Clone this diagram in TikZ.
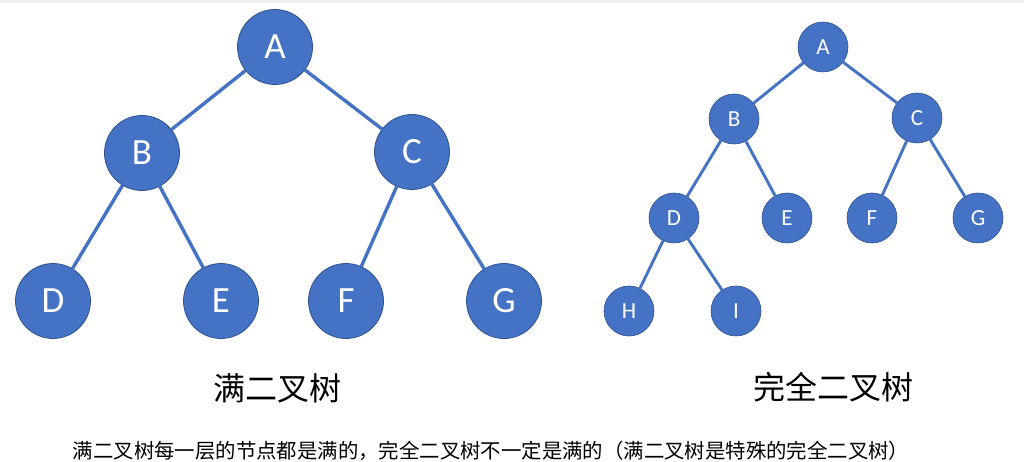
\documentclass[tikz,border=0pt]{standalone}
\usepackage{fontspec}
\setmainfont{Carlito}
\newfontfamily\cjk{Noto Sans CJK SC}
\usepackage{tikz}
\usetikzlibrary{positioning}
\definecolor{nodeblue}{HTML}{4472C4}
\definecolor{nodeedge}{HTML}{2F528F}
\definecolor{topbar}{HTML}{EEEEEE}

\begin{document}
\begin{tikzpicture}[x=1pt,y=-1pt,
    big/.style={circle,fill=nodeblue,draw=nodeedge,line width=0.8pt,minimum size=75pt,inner sep=0pt,text=white,font=\fontsize{37}{37}\selectfont},
    small/.style={circle,fill=nodeblue,draw=nodeedge,line width=0.6pt,minimum size=50pt,inner sep=0pt,text=white,font=\fontsize{23}{23}\selectfont},
    bigedge/.style={draw=nodeblue,line width=3.4pt},
    smalledge/.style={draw=nodeblue,line width=2.9pt}]
  \useasboundingbox (0,0) rectangle (1024,462);
  \fill[topbar] (0,0) rectangle (1024,3);
  % full binary tree
  \node[big] (fa) at (275,47) {A};
  \node[big] (fb) at (142,153) {B};
  \node[big] (fc) at (412,152) {C};
  \node[big] (fd) at (53,301) {D};
  \node[big] (fe) at (221,301) {E};
  \node[big] (ff) at (346,301) {F};
  \node[big] (fg) at (504,301) {G};
  \draw[bigedge] (fa) -- (fb);
  \draw[bigedge] (fa) -- (fc);
  \draw[bigedge] (fb) -- (fd);
  \draw[bigedge] (fb) -- (fe);
  \draw[bigedge] (fc) -- (ff);
  \draw[bigedge] (fc) -- (fg);
  % complete binary tree
  \node[small] (ca) at (823,47) {A};
  \node[small] (cb) at (734,119) {B};
  \node[small] (cc) at (917,118) {C};
  \node[small] (cd) at (674,218) {D};
  \node[small] (ce) at (787,218) {E};
  \node[small] (cf) at (872,218) {F};
  \node[small] (cg) at (978,218) {G};
  \node[small] (ch) at (629,311) {H};
  \node[small] (ci) at (736,311) {I};
  \draw[smalledge] (ca) -- (cb);
  \draw[smalledge] (ca) -- (cc);
  \draw[smalledge] (cb) -- (cd);
  \draw[smalledge] (cb) -- (ce);
  \draw[smalledge] (cc) -- (cf);
  \draw[smalledge] (cc) -- (cg);
  \draw[smalledge] (cd) -- (ch);
  \draw[smalledge] (cd) -- (ci);
  % captions
  \node[font=\cjk\fontsize{32}{32}\selectfont] (fulltitle) at (277,388) {满二叉树};
  \node[font=\cjk\fontsize{32}{32}\selectfont] (completetitle) at (833,387) {完全二叉树};
  \node[font=\cjk\fontsize{20.4}{20.4}\selectfont] (note) at (491,451) {满二叉树每一层的节点都是满的，完全二叉树不一定是满的（满二叉树是特殊的完全二叉树）};
\end{tikzpicture}
\end{document}
